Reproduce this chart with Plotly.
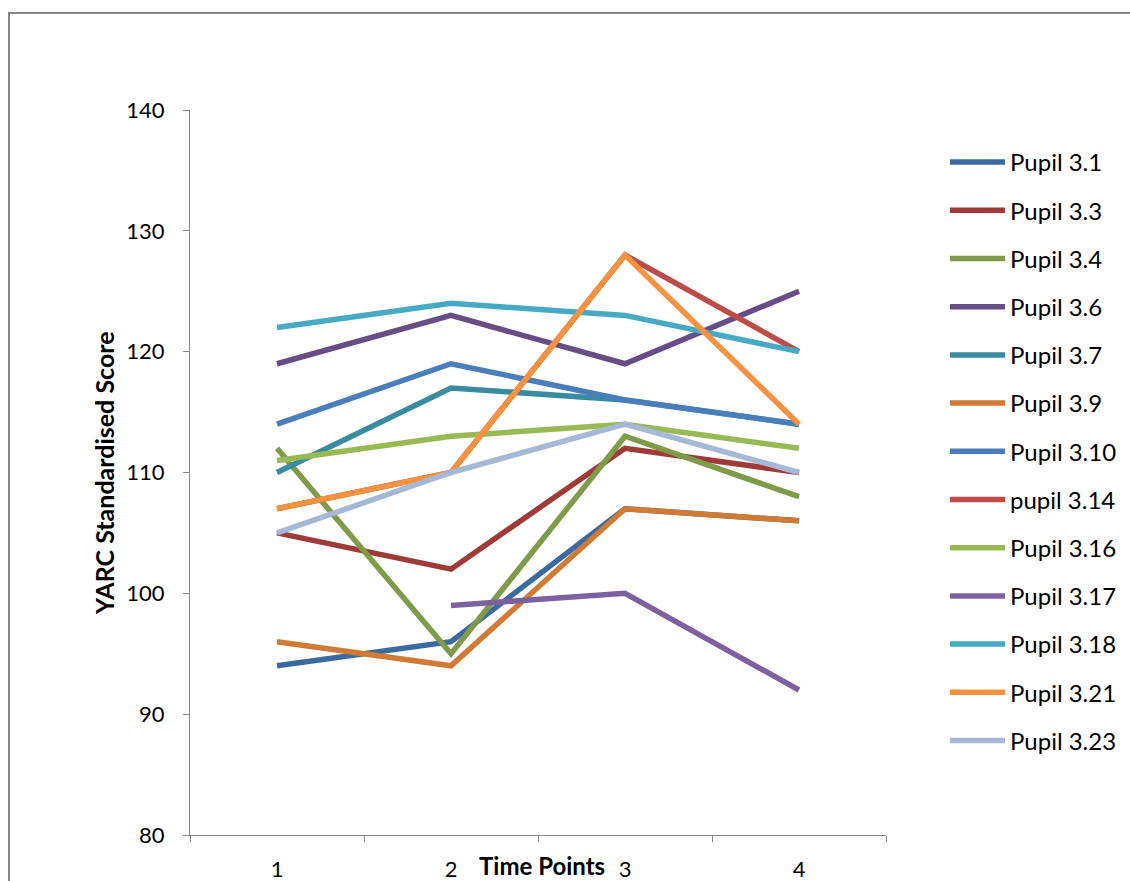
import plotly.graph_objects as go

time_points = ["1", "2", "3", "4"]

pupils = ["Pupil 3.1", "Pupil 3.3", "Pupil 3.4", "Pupil 3.6", "Pupil 3.7", "Pupil 3.9",
          "Pupil 3.10", "pupil 3.14", "Pupil 3.16", "Pupil 3.17", "Pupil 3.18",
          "Pupil 3.21", "Pupil 3.23"]

p3_1 = [94, 96, 107, 106]
p3_3 = [105, 102, 112, 110]
p3_4 = [112, 95, 113, 108]
p3_6 = [119, 123, 119, 125]
p3_7 = [110, 117, 116, 114]
p3_9 = [96, 94, 107, 106]
p3_10 = [114, 119, 116, 114]
p3_14 = [107, 110, 128, 120]
p3_16 = [111, 113, 114, 112]
p3_17 = [None, 99, 100, 92]
p3_18 = [122, 124, 123, 120]
p3_21 = [107, 110, 128, 114]
p3_23 = [105, 110, 114, 110]

series = [p3_1, p3_3, p3_4, p3_6, p3_7, p3_9, p3_10, p3_14, p3_16, p3_17, p3_18, p3_21, p3_23]

colors = ["#3B6AA0", "#9E3B39", "#7F9A48", "#664D85", "#398C9F", "#D07A34",
          "#4A7EBB", "#BE4B48", "#98B954", "#7D60A0", "#46AAC5", "#F69240", "#A7B8D6"]

FONT = "Lato"

fig = go.Figure()
for i, (name, vals, col) in enumerate(zip(pupils, series, colors)):
    fig.add_trace(go.Scatter(
        x=time_points, y=vals, name=name, mode="lines",
        line=dict(color=col, width=5.5), legendgroup="g%d" % i,
        connectgaps=False,
    ))

W, H = 1130, 881
L, R, T, B = 190, 886, 110, 835
pw, ph = R - L, B - T

def px_x(x):
    return (x - L) / pw

def px_y(y):
    return (B - y) / ph

fig.update_layout(
    width=W, height=H,
    margin=dict(l=L, r=W - R, t=T, b=H - B, pad=0, autoexpand=False),
    paper_bgcolor="white", plot_bgcolor="white",
    font=dict(family=FONT, size=22, color="black"),
    showlegend=True,
    legend=dict(
        x=px_x(945), xanchor="left", y=px_y(140), yanchor="top",
        font=dict(family=FONT, size=24, color="black"),
        tracegroupgap=14, itemwidth=55, bgcolor="rgba(0,0,0,0)",
    ),
    xaxis=dict(
        type="category", range=[-0.5, 3.5], tickson="boundaries", ticks="outside", ticklen=6,
        tickcolor="#868686", showline=True, linecolor="#868686", linewidth=1,
        showgrid=False, zeroline=False, ticklabelstandoff=15, automargin=False,
        tickfont=dict(family=FONT, size=22, color="black"),
    ),
    yaxis=dict(
        range=[80, 140], tickvals=[80, 90, 100, 110, 120, 130, 140],
        ticks="outside", ticklen=6, tickcolor="#868686", showline=True,
        linecolor="#868686", linewidth=1, showgrid=False, zeroline=False,
        ticklabelstandoff=14, automargin=False,
        tickfont=dict(family=FONT, size=22, color="black"),
    ),
    shapes=[dict(
        type="rect", xref="paper", yref="paper",
        x0=px_x(9), x1=px_x(1160), y0=px_y(920), y1=px_y(13),
        line=dict(color="#868686", width=2), fillcolor="rgba(0,0,0,0)", layer="below",
    )],
    annotations=[
        dict(text="<b>YARC Standardised Score</b>", textangle=-90, xref="paper", yref="paper",
             x=px_x(104), y=px_y(473), xanchor="center", yanchor="middle", showarrow=False,
             font=dict(family=FONT, size=25, color="black")),
        dict(text="<b>Time Points</b>", xref="paper", yref="paper",
             x=px_x(542), y=px_y(866), xanchor="center", yanchor="middle", showarrow=False,
             font=dict(family=FONT, size=24, color="black")),
    ],
)

fig.write_html("out.html", config={"displayModeBar": False},
               post_script="document.body.style.margin='0';document.body.style.overflow='hidden';")
